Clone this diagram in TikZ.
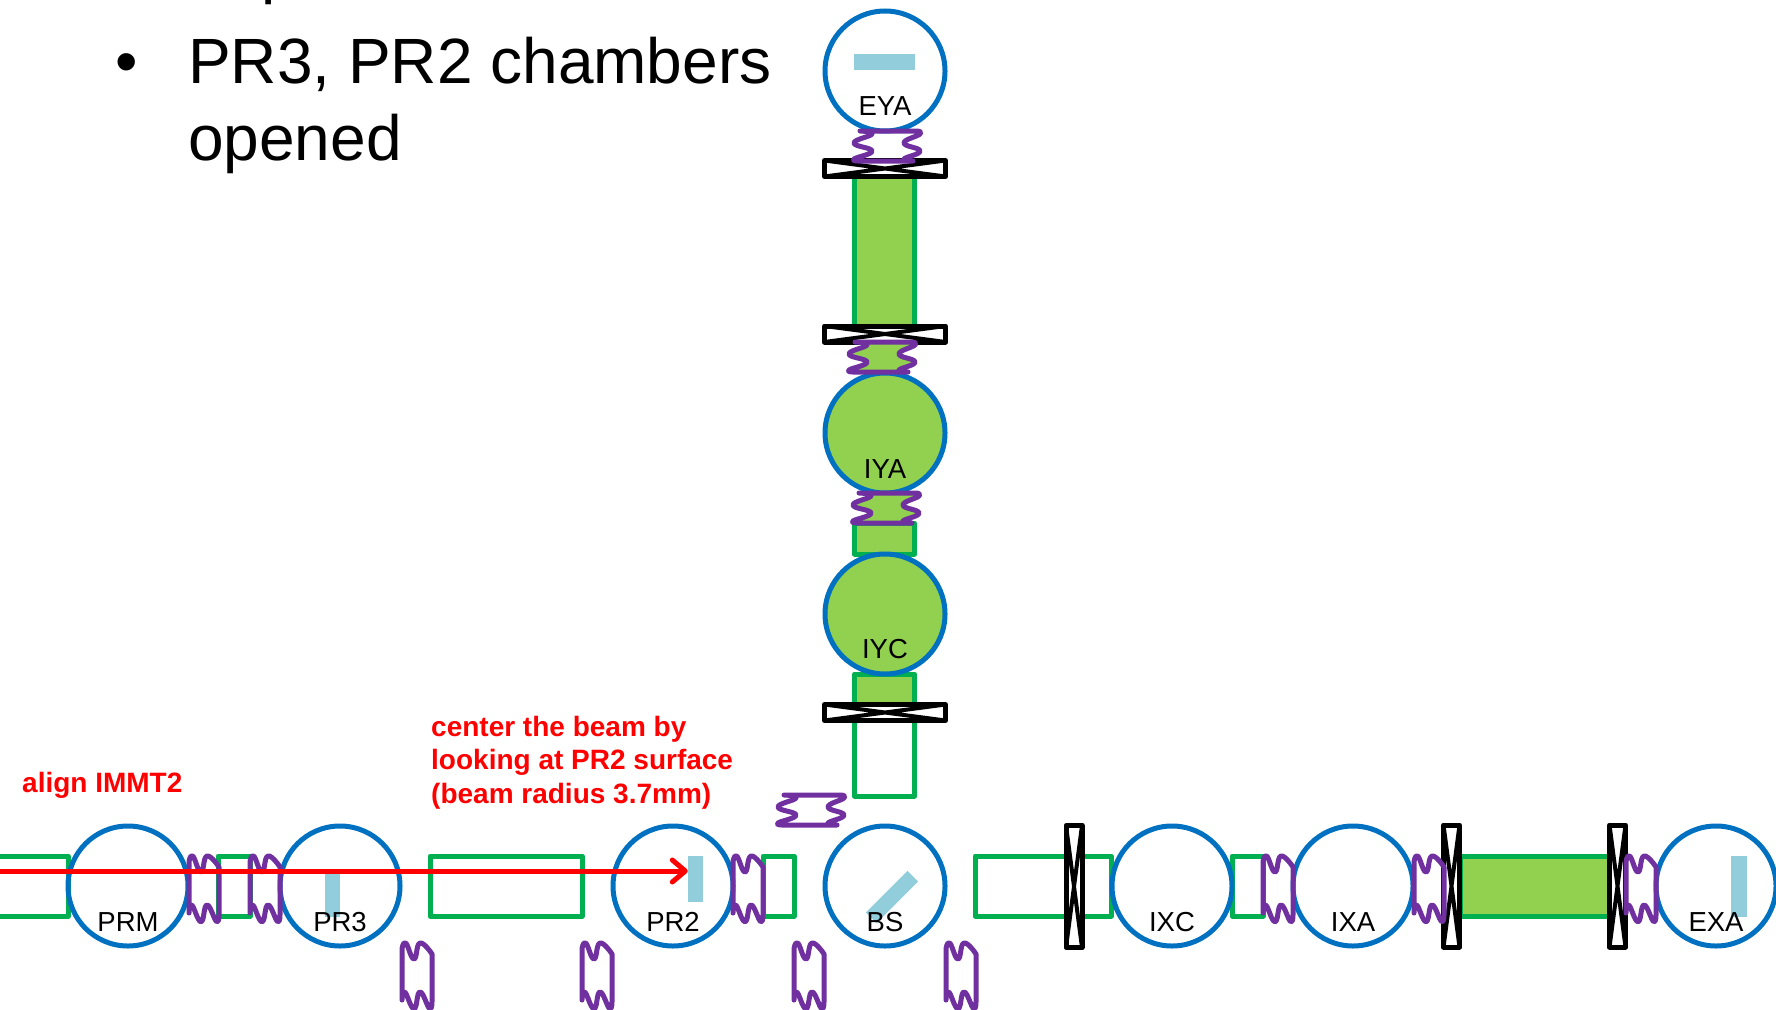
\documentclass[tikz,border=0pt]{standalone}
\usepackage{fontspec}
\setmainfont{Liberation Sans}
\usetikzlibrary{arrows.meta}
\definecolor{chamberblue}{HTML}{0070C0}
\definecolor{tubeline}{HTML}{00B050}
\definecolor{tubefill}{HTML}{92D050}
\definecolor{mirrorblue}{HTML}{92CDDC}
\definecolor{bellowspurple}{HTML}{7030A0}
\tikzset{
    chamber/.style={circle,draw=chamberblue,line width=5pt,inner sep=0pt,minimum size=120pt},
    chambername/.style={anchor=base,inner sep=0pt,font=\fontsize{27.5}{30}\selectfont},
    tube/.style={rectangle,draw=tubeline,line width=5pt,line join=round,inner sep=0pt,minimum width=60pt,minimum height=60pt},
    gatebox/.style={rectangle,draw=black,fill=white,line width=5pt,line join=round,inner sep=0pt,
        path picture={\draw[black,line width=4pt] (path picture bounding box.north west) -- (path picture bounding box.south east)
            (path picture bounding box.south west) -- (path picture bounding box.north east);}},
    mirror/.style={rectangle,fill=mirrorblue,inner sep=0pt},
    bellowsline/.style={draw=bellowspurple,line width=5pt,line join=round,line cap=round},
    note/.style={anchor=base west,inner sep=0pt,align=left,text=red,font=\bfseries\fontsize{28}{33.5}\selectfont},
    slidetext/.style={anchor=base west,inner sep=0pt,align=left,font=\fontsize{64}{77}\selectfont},
    bellows/.pic={
        \draw[bellowsline,pic actions] plot[smooth,tension=0.8] coordinates {(0,6) (3.7,0) (12,16) (18,0) (30,11)}
            -- plot[smooth,tension=0.8] coordinates {(30,57) (27.7,65.7) (18,49) (12,65.7) (2.7,49) (0,57)} -- cycle;
    },
    bellowsturned/.pic={
        \draw[bellowsline,pic actions] plot[smooth,tension=0.8] coordinates {(7,0) (19,3) (1,12) (19,20) (1,28) (6,30)}
            -- plot[smooth,tension=0.8] coordinates {(60,30) (51,28) (67,20) (51,12) (67,3) (64,0)} -- cycle;
    }
}

\begin{document}
\begin{tikzpicture}[x=1pt,y=-1pt]
    \useasboundingbox (0,0) rectangle (1776,1009);
    % slide text, its first line runs off the top
    \node[slidetext] (cutline) at (261,-9) {p};
    \node[slidetext] (bullet) at (115,83) {•};
    \node[slidetext] (chamberstext) at (188,160) {PR3, PR2 chambers\\opened};
    \node[note] (alignnote) at (22,792) {align IMMT2};
    \node[note] (centernote) at (431,803) {center the beam by\\looking at PR2 surface\\(beam radius 3.7mm)};
    % tubes
    \node[tube,minimum width=78pt] (prmtube) at (29,886) {};
    \node[tube,minimum width=32pt] (prthreetube) at (234,886) {};
    \node[tube,minimum width=152pt] (prtwotube) at (506,886) {};
    \node[tube,minimum width=31pt] (bstube) at (778.5,886) {};
    \node[tube,minimum width=136pt] (ixctube) at (1043,886) {};
    \node[tube,minimum width=31pt] (ixatube) at (1247.5,886) {};
    \node[tube,fill=tubefill,minimum width=150pt] (exatube) at (1535,886) {};
    \node[tube,fill=tubefill,minimum height=166pt] (eyatube) at (884.5,251) {};
    \node[tube,fill=tubefill,minimum height=31pt] (iyatube) at (884.5,538.5) {};
    \node[tube,fill=tubefill,minimum height=38pt] (iyctube) at (884.5,693) {};
    \node[tube,minimum height=84pt] (bsuptube) at (884.5,754) {};
    % chambers
    \node[chamber] (eya) at (885,71) {};
    \node[chamber,fill=tubefill] (iya) at (885,433) {};
    \node[chamber,fill=tubefill] (iyc) at (885,614) {};
    \node[chamber] (prm) at (128,886) {};
    \node[chamber] (prthree) at (340,886) {};
    \node[chamber] (prtwo) at (673,886) {};
    \node[chamber] (bs) at (885,886) {};
    \node[chamber] (ixc) at (1172,886) {};
    \node[chamber] (ixa) at (1353,886) {};
    \node[chamber] (exa) at (1716,886) {};
    % mirrors
    \node[mirror,minimum width=61pt,minimum height=16pt] (eyamirror) at (884.5,62) {};
    \node[mirror,minimum width=15pt,minimum height=46pt] (prthreemirror) at (332.5,894) {};
    \node[mirror,minimum width=15pt,minimum height=46pt] (prtwomirror) at (695.5,879) {};
    \node[mirror,minimum width=59pt,minimum height=15pt,rotate=45] (bsmirror) at (892,897) {};
    \node[mirror,minimum width=16pt,minimum height=61pt] (examirror) at (1739,886.5) {};
    % chamber names
    \node[chambername] (eyaname) at ([yshift=-44pt]eya.center) {EYA};
    \node[chambername] (iyaname) at ([yshift=-45pt]iya.center) {IYA};
    \node[chambername] (iycname) at ([yshift=-44pt]iyc.center) {IYC};
    \node[chambername] (prmname) at ([yshift=-45pt]prm.center) {PRM};
    \node[chambername] (prthreename) at ([yshift=-45pt]prthree.center) {PR3};
    \node[chambername] (prtwoname) at ([yshift=-45pt]prtwo.center) {PR2};
    \node[chambername] (bsname) at ([yshift=-45pt]bs.center) {BS};
    \node[chambername] (ixcname) at ([yshift=-45pt]ixc.center) {IXC};
    \node[chambername] (ixaname) at ([yshift=-45pt]ixa.center) {IXA};
    \node[chambername] (exaname) at ([yshift=-45pt]exa.center) {EXA};
    % gate valves
    \node[gatebox,minimum width=121pt,minimum height=16pt] (eyagate) at (885,168.5) {};
    \node[gatebox,minimum width=121pt,minimum height=16pt] (iyagate) at (885,334) {};
    \node[gatebox,minimum width=121pt,minimum height=16pt] (iycgate) at (885,712.5) {};
    \node[gatebox,minimum width=16pt,minimum height=122pt] (ixcgate) at (1074,886.5) {};
    \node[gatebox,minimum width=16pt,minimum height=122pt] (ixagate) at (1451.5,886) {};
    \node[gatebox,minimum width=16pt,minimum height=122pt] (exagate) at (1617.5,886) {};
    % bellows
    \pic (prmbellows) at (189,856) {bellows};
    \pic (prthreebellows) at (250,856) {bellows};
    \pic (prtwobellows) at (733,856) {bellows};
    \pic (ixcbellows) at (1263,856) {bellows};
    \pic (ixabellows) at (1414,856) {bellows};
    \pic (exabellows) at (1626,856) {bellows};
    \pic (spareone) at (402,943) {bellows};
    \pic (sparetwo) at (582,943) {bellows};
    \pic (sparethree) at (794,943) {bellows};
    \pic (sparefour) at (946,943) {bellows};
    \pic (eyabellows) at (853,131) {bellowsturned};
    \pic[fill=tubefill] (iyabellows) at (848,342) {bellowsturned};
    \pic[fill=tubefill] (iycbellows) at (852,493) {bellowsturned};
    \pic (sparefive) at (777,795) {bellowsturned};
    % beam
    \coordinate (beamstart) at (-5,871);
    \draw[red,line width=5pt,-{Straight Barb[round,length=13pt,width=22pt]}] (beamstart) -- (beamstart -| prtwomirror.west);
\end{tikzpicture}
\end{document}
